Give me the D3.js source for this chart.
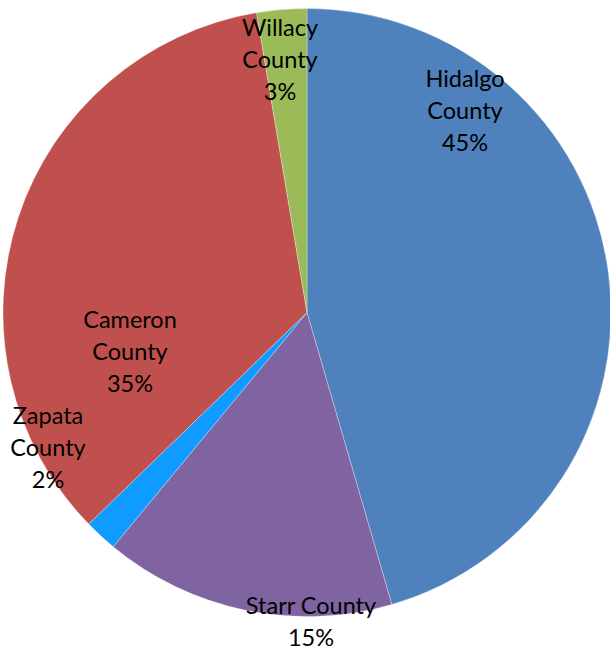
<!DOCTYPE html>
<html><head><meta charset="utf-8">
<script src="https://cdn.jsdelivr.net/npm/d3@7"></script>
<style>body{margin:0;background:#fff}</style>
</head><body>
<svg id="chart" width="610" height="650"></svg>
<script>
const categories = ["Hidalgo County", "Starr County", "Zapata County", "Cameron County", "Willacy County"];
const values = [45.5, 15.5, 1.75, 34.6, 2.65];
const percentLabels = ["45%", "15%", "2%", "35%", "3%"];
const colors = ["#4F81BD", "#8064A2", "#0F9BFF", "#C0504D", "#9BBB59"];

const W = 610, H = 650, cx = 307, cy = 312.5, R = 304;
const svg = d3.select("#chart");
const g = svg.append("g").attr("transform", `translate(${cx},${cy})`);

const pie = d3.pie().sort(null).value(d => d)(values);
const arc = d3.arc().innerRadius(0).outerRadius(R);

g.selectAll("path").data(pie).join("path")
  .attr("d", arc)
  .attr("fill", (d, i) => colors[i])
  .attr("stroke", "rgba(255,255,255,0.5)")
  .attr("stroke-width", 0.6);

// label layout: lines per label and center offsets from pie centre
const labelLines = [
  ["Hidalgo", "County", percentLabels[0]],
  ["Starr County", percentLabels[1]],
  ["Zapata", "County", percentLabels[2]],
  ["Cameron", "County", percentLabels[3]],
  ["Willacy", "County", percentLabels[4]]
];
const labelOffsets = [[158, -202], [4, 309], [-259, 135], [-177, 39], [-27, -253]];
const lh = 32;

labelLines.forEach((lines, i) => {
  const [ox, oy] = labelOffsets[i];
  const t = g.append("text")
    .attr("text-anchor", "middle")
    .attr("font-family", "Lato, 'Open Sans', sans-serif")
    .attr("font-size", 23.5)
    .attr("fill", "#000");
  const y0 = oy - (lines.length - 1) * lh / 2;
  lines.forEach((s, k) => {
    t.append("tspan").attr("x", ox).attr("y", y0 + k * lh).attr("dy", "0.35em").text(s);
  });
});
</script>
</body></html>
